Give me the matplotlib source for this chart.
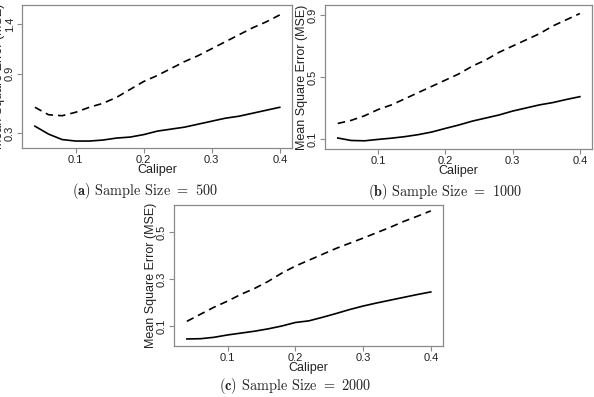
import numpy as np
import matplotlib
matplotlib.use("Agg")
import matplotlib.pyplot as plt

plt.rcParams['font.family'] = ['Liberation Sans', 'DejaVu Sans']
plt.rcParams['mathtext.fontset'] = 'cm'

# Caliper values (x) shared by all panels
caliper = [0.04, 0.06, 0.08, 0.10, 0.12, 0.14, 0.16, 0.18, 0.20, 0.22,
           0.24, 0.26, 0.28, 0.30, 0.32, 0.34, 0.36, 0.38, 0.40]

# (a) n = 500
mse_a_dashed = [0.56, 0.485, 0.475, 0.51, 0.56, 0.60, 0.66, 0.74, 0.82, 0.88,
                0.95, 1.02, 1.08, 1.15, 1.22, 1.29, 1.36, 1.42, 1.49]
mse_a_solid = [0.37, 0.29, 0.235, 0.22, 0.22, 0.23, 0.25, 0.26, 0.285, 0.32,
               0.34, 0.36, 0.39, 0.42, 0.45, 0.47, 0.50, 0.53, 0.56]

# (b) n = 1000
mse_b_dashed = [0.20, 0.22, 0.25, 0.29, 0.32, 0.36, 0.40, 0.44, 0.48, 0.52,
                0.57, 0.61, 0.66, 0.70, 0.74, 0.78, 0.83, 0.87, 0.91]
mse_b_solid = [0.106, 0.09, 0.088, 0.097, 0.105, 0.115, 0.128, 0.145, 0.168, 0.19,
               0.215, 0.235, 0.255, 0.28, 0.30, 0.32, 0.335, 0.355, 0.373]

# (c) n = 2000
mse_c_dashed = [0.12, 0.15, 0.18, 0.206, 0.235, 0.26, 0.29, 0.325, 0.355, 0.38,
                0.405, 0.43, 0.452, 0.474, 0.497, 0.52, 0.545, 0.567, 0.59]
mse_c_solid = [0.045, 0.046, 0.052, 0.062, 0.07, 0.078, 0.088, 0.10, 0.115, 0.122,
               0.137, 0.153, 0.17, 0.185, 0.198, 0.21, 0.222, 0.234, 0.245]

xticks = [0.1, 0.2, 0.3, 0.4]
yticks_a = [0.3, 0.9, 1.4]
yticks_b = [0.1, 0.5, 0.9]
yticks_c = [0.1, 0.3, 0.5]

captions = [r"$\mathbf{(a)}$ Sample Size $=$ 500",
            r"$\mathbf{(b)}$ Sample Size $=$ 1000",
            r"$\mathbf{(c)}$ Sample Size $=$ 2000"]

W, H = 594, 397
fig = plt.figure(figsize=(W / 100, H / 100), dpi=100)


def px_axes(left, top, right, bottom):
    return fig.add_axes([left / W, 1 - bottom / H, (right - left) / W, (bottom - top) / H])


def panel(ax, dashed, solid, yticks, ylim):
    ax.plot(caliper, dashed, color='black', lw=1.2, dashes=(4.5, 3))
    ax.plot(caliper, solid, color='black', lw=1.2)
    ax.set_xlim(0.021, 0.418)
    ax.set_ylim(*ylim)
    ax.set_xticks(xticks)
    ax.set_xticklabels([str(t) for t in xticks])
    ax.set_yticks(yticks)
    ax.set_yticklabels([str(t) for t in yticks], rotation=90, va='center')
    for s in ax.spines.values():
        s.set_color('#8a8a8a')
        s.set_linewidth(0.9)
    ax.tick_params(colors='#8a8a8a', labelcolor='#222222', labelsize=8,
                   length=3.5, width=0.8, pad=1.5)
    ax.set_xlabel('Caliper', fontsize=9, color='#222222', labelpad=-1)
    ax.set_ylabel('Mean Square Error (MSE)', fontsize=9, color='#222222', labelpad=0)


ax_a = px_axes(22, 5, 292, 148)
panel(ax_a, mse_a_dashed, mse_a_solid, yticks_a, (0.15, 1.59))
ax_b = px_axes(325, 5, 592, 149)
panel(ax_b, mse_b_dashed, mse_b_solid, yticks_b, (0.035, 0.965))
ax_c = px_axes(174, 205, 443, 346)
panel(ax_c, mse_c_dashed, mse_c_solid, yticks_c, (0.015, 0.615))

cap_pos = [(145, 191), (445, 192), (295, 386)]
for (cx, cy), txt in zip(cap_pos, captions):
    fig.text(cx / W, 1 - cy / H, txt, fontfamily='cmr10', fontsize=10.3,
             ha='center', va='center', color='#222222')

fig.savefig('out.png', dpi=100)
